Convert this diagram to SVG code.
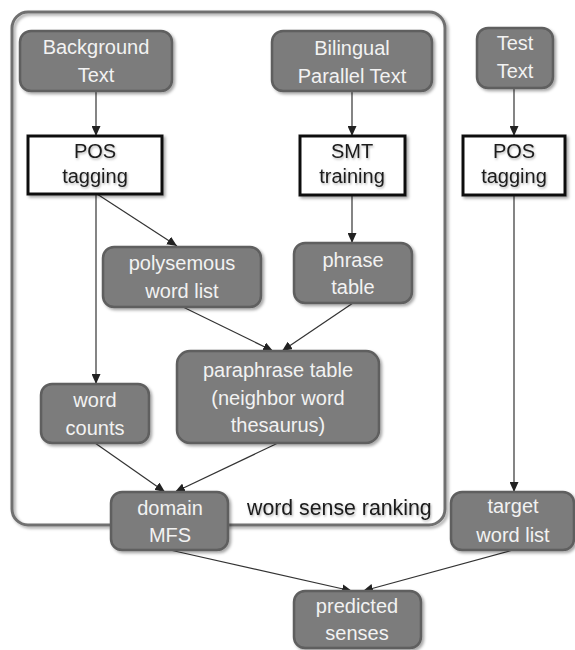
<svg xmlns="http://www.w3.org/2000/svg" width="575" height="650" viewBox="0 0 575 650">
<defs>
<filter id="sh" x="-10%" y="-10%" width="130%" height="130%">
<feDropShadow dx="2" dy="2" stdDeviation="1.8" flood-color="#000" flood-opacity="0.35"/>
</filter>
<filter id="tsh" x="-10%" y="-20%" width="130%" height="150%">
<feDropShadow dx="1" dy="1.5" stdDeviation="1" flood-color="#000" flood-opacity="0.3"/>
</filter>
<marker id="ah" markerUnits="userSpaceOnUse" markerWidth="10" markerHeight="9" refX="10" refY="4.5" orient="auto">
<path d="M0,0 L10,4.5 L0,9 z" fill="#222"/>
</marker>
</defs>
<style>
.gn rect{fill:#7b7b7b;stroke:#5e5e5e;stroke-width:2.5}
.gn text{fill:#f2f2f2;font-family:"Liberation Sans",Arial,sans-serif;font-size:20px;text-anchor:middle}
.wn rect{fill:#fff;stroke:#111;stroke-width:3}
.wn text{fill:#1a1a1a;font-family:"Liberation Sans",Arial,sans-serif;font-size:20px;text-anchor:middle}
.ln{stroke:#333;stroke-width:1.2;fill:none;marker-end:url(#ah)}
</style>
<rect x="12" y="12" width="433" height="513" rx="16" fill="none" stroke="#707070" stroke-width="3" filter="url(#sh)"/>
<g id="connectors">
<line class="ln" x1="96" y1="91" x2="96" y2="136"/>
<line class="ln" x1="352" y1="91" x2="352" y2="136"/>
<line class="ln" x1="514" y1="88" x2="514" y2="136"/>
<line class="ln" x1="97" y1="194" x2="177" y2="246"/>
<line class="ln" x1="96" y1="194" x2="96" y2="384"/>
<line class="ln" x1="352" y1="195" x2="352" y2="243"/>
<line class="ln" x1="183" y1="307" x2="273" y2="351"/>
<line class="ln" x1="353" y1="303" x2="282" y2="351"/>
<line class="ln" x1="95" y1="443" x2="165" y2="492"/>
<line class="ln" x1="278" y1="443" x2="175" y2="492"/>
<line class="ln" x1="514" y1="195" x2="514" y2="492"/>
<line class="ln" x1="170" y1="550" x2="352" y2="591"/>
<line class="ln" x1="513" y1="550" x2="363" y2="591"/>
</g>
<g id="background-text" class="gn"><rect x="20" y="31" width="152" height="60" rx="11" filter="url(#sh)"/><text x="96" y="54">Background</text><text x="96" y="82">Text</text></g>
<g id="bilingual-text" class="gn"><rect x="272" y="31" width="160" height="60" rx="11" filter="url(#sh)"/><text x="352" y="55">Bilingual</text><text x="352" y="83">Parallel Text</text></g>
<g id="test-text" class="gn"><rect x="477" y="28" width="76" height="60" rx="11" filter="url(#sh)"/><text x="515" y="50">Test</text><text x="515" y="78">Text</text></g>
<g id="pos-left" class="wn"><rect x="28" y="136" width="134" height="58" filter="url(#sh)"/><text x="95" y="158" filter="url(#tsh)">POS</text><text x="95" y="183" filter="url(#tsh)">tagging</text></g>
<g id="smt-training" class="wn"><rect x="300" y="136" width="105" height="59" filter="url(#sh)"/><text x="352" y="158" filter="url(#tsh)">SMT</text><text x="352" y="183" filter="url(#tsh)">training</text></g>
<g id="pos-right" class="wn"><rect x="463" y="136" width="102" height="59" filter="url(#sh)"/><text x="514" y="158" filter="url(#tsh)">POS</text><text x="514" y="183" filter="url(#tsh)">tagging</text></g>
<g id="polysemous" class="gn"><rect x="103" y="247" width="158" height="60" rx="11" filter="url(#sh)"/><text x="182" y="270">polysemous</text><text x="182" y="298">word list</text></g>
<g id="phrase-table" class="gn"><rect x="294" y="243" width="118" height="60" rx="11" filter="url(#sh)"/><text x="353" y="267">phrase</text><text x="353" y="294">table</text></g>
<g id="word-counts" class="gn"><rect x="41" y="384" width="108" height="59" rx="11" filter="url(#sh)"/><text x="95" y="407">word</text><text x="95" y="435">counts</text></g>
<g id="paraphrase-table" class="gn"><rect x="177" y="351" width="202" height="92" rx="13" filter="url(#sh)"/><text x="278" y="377">paraphrase table</text><text x="278" y="405">(neighbor word</text><text x="278" y="432">thesaurus)</text></g>
<g id="domain-mfs" class="gn"><rect x="111" y="492" width="117" height="58" rx="11" filter="url(#sh)"/><text x="170" y="515">domain</text><text x="170" y="542">MFS</text></g>
<g id="label-wsr"><text x="247" y="515" font-family="'Liberation Sans',Arial,sans-serif" font-size="21.3" fill="#1a1a1a" filter="url(#tsh)">word sense ranking</text></g>
<g id="target-word-list" class="gn"><rect x="451" y="492" width="123" height="58" rx="11" filter="url(#sh)"/><text x="513" y="513">target</text><text x="513" y="542">word list</text></g>
<g id="predicted-senses" class="gn"><rect x="294" y="591" width="127" height="57" rx="11" filter="url(#sh)"/><text x="357" y="613">predicted</text><text x="357" y="640">senses</text></g>
</svg>
